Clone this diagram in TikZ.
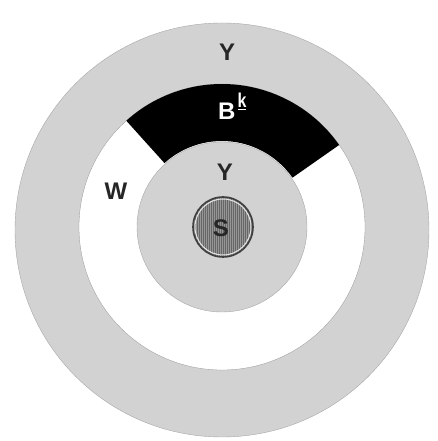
\documentclass[tikz,border=0pt]{standalone}
\usepackage{fontspec}
\setmainfont{Liberation Sans}
\usetikzlibrary{calc}
\definecolor{ringgray}{RGB}{210,210,210}
\definecolor{sgray}{RGB}{150,150,150}
\tikzset{
  lbl/.style={font=\bfseries\fontsize{24}{24}\selectfont, text=black!85, inner sep=0pt},
  ringfill/.style={fill=ringgray, draw=ringgray!80!black, line width=0.4pt}
}
\begin{document}
\begin{tikzpicture}[x=1pt,y=1pt]
\useasboundingbox (0,0) rectangle (438,441);
\fill[white] (0,0) rectangle (438,441);
\coordinate (co) at (222,211);
\coordinate (c) at (222,214);
% outer gray ring
\filldraw[ringfill] (co) circle[radius=207];
\filldraw[fill=white, draw=ringgray!70!black, line width=0.3pt] (c) circle[radius=143];
% black sector
\fill[black] ($(c)+(35:86)$) arc[start angle=35, end angle=132, radius=86]
  -- ($(c)+(132:143)$) arc[start angle=132, end angle=35, radius=143] -- cycle;
% inner gray disc
\filldraw[ringfill] (c) circle[radius=85];
% S disc
\coordinate (sc) at (223,214);
\begin{scope}
  \clip (sc) circle[radius=30];
  \fill[sgray] (sc) circle[radius=30];
  \foreach \i in {-30,-28,...,30} {
    \draw[black!60, line width=0.6pt] ($(sc)+(\i,-31)$) -- ($(sc)+(\i,31)$);
  }
\end{scope}
\draw[white!80!gray, line width=1pt] (sc) circle[radius=28];
\draw[black!75, line width=1.6pt] (sc) circle[radius=30];
% labels
\node[lbl, anchor=base] (yout) at (227,380) {Y};
\node[lbl, text=white, anchor=base west] (bk) at (218,321)
  {B\hspace{2pt}\raisebox{12pt}{\fontsize{20}{20}\selectfont\scalebox{0.8}[1]{\underline{k}}}};
\node[lbl, anchor=base] (yin) at (225,260) {Y};
\node[lbl, anchor=base] (w) at (116,241) {W};
\node[lbl, anchor=base] (s) at (221,204) {S};
\end{tikzpicture}
\end{document}
